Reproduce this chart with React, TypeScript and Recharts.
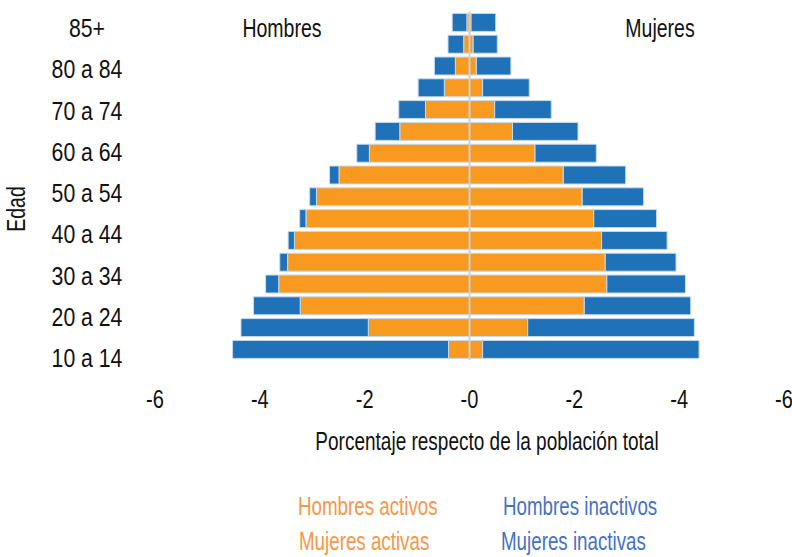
import React from "react";
import { BarChart, Bar, XAxis, YAxis, ReferenceLine, LineChart, Line } from "recharts";

const ageGroups = [
  "10 a 14", "15 a 19", "20 a 24", "25 a 29", "30 a 34", "35 a 39", "40 a 44", "45 a 49",
  "50 a 54", "55 a 59", "60 a 64", "65 a 69", "70 a 74", "75 a 79", "80 a 84", "85+",
];
// percent of total population (men shown to the left)
const hombresActivos = [0.4, 1.93, 3.23, 3.64, 3.47, 3.34, 3.12, 2.92, 2.49, 1.91, 1.33, 0.84, 0.48, 0.27, 0.11, 0.05];
const hombresInactivos = [4.12, 2.43, 0.89, 0.25, 0.15, 0.12, 0.12, 0.13, 0.18, 0.24, 0.47, 0.51, 0.5, 0.4, 0.3, 0.28];
const mujeresActivas = [0.25, 1.11, 2.19, 2.62, 2.59, 2.52, 2.37, 2.15, 1.79, 1.25, 0.82, 0.48, 0.25, 0.13, 0.07, 0.03];
const mujeresInactivas = [4.13, 3.18, 2.03, 1.5, 1.35, 1.25, 1.2, 1.17, 1.19, 1.17, 1.25, 1.08, 0.89, 0.66, 0.46, 0.47];

const ageTickLabels = ["10 a 14", "20 a 24", "30 a 34", "40 a 44", "50 a 54", "60 a 64", "70 a 74", "80 a 84", "85+"];
const ageTickValues = [0, 1, 2, 3, 4, 5, 6, 7, 8];
const xTicks = [-6, -4, -2, 0, 2, 4, 6];

const data = ageGroups.map((g, i) => ({
  edad: g,
  hA: -hombresActivos[i],
  hI: -hombresInactivos[i],
  mA: mujeresActivas[i],
  mI: mujeresInactivas[i],
}));
const labelData = ageTickValues.map((v) => ({ v }));

const FONT = "'Liberation Sans', Arial, sans-serif";
const ORANGE = "#F89A20";
const BLUE = "#1F72B8";
const STROKE = "#c8dbee";
const SX = 0.78;

const AgeTick = (props: any) => {
  const { x, y, payload } = props;
  return (
    <g transform={`translate(${x - 68},${y})`}>
      <text transform={`scale(0.85,1)`} x={0} y={0} dy="0.355em" textAnchor="middle" fontFamily={FONT} fontSize={25} fill="#111">
        {ageTickLabels[payload.value]}
      </text>
    </g>
  );
};

const XTick = (props: any) => {
  const { x, y, payload } = props;
  return (
    <g transform={`translate(${x},${y})`}>
      <text transform={`scale(0.8,1)`} x={0} y={0} dy="0.71em" textAnchor="middle" fontFamily={FONT} fontSize={25} fill="#111">
        {"-" + Math.abs(payload.value)}
      </text>
    </g>
  );
};

const abs = (s: React.CSSProperties): React.CSSProperties => ({
  position: "absolute",
  fontFamily: FONT,
  fontSize: 25,
  lineHeight: "25px",
  whiteSpace: "nowrap",
  ...s,
});

export default function App() {
  return (
    <div style={{ position: "absolute", left: 0, top: 0, width: 792, height: 557, background: "#fff" }}>
      <div style={{ position: "absolute", left: 0, top: 0 }}>
        <BarChart
          width={792}
          height={557}
          data={data}
          layout="vertical"
          stackOffset="sign"
          margin={{ top: 11.4, right: 8, bottom: 156.8, left: 155 }}
        >
          <XAxis
            type="number"
            domain={[-6, 6]}
            ticks={xTicks}
            axisLine={false}
            tickLine={false}
            tickSize={0}
            tickMargin={30}
            height={40}
            tick={<XTick />}
          />
          <YAxis type="category" dataKey="edad" reversed hide />
          <Bar dataKey="hA" stackId="s" fill={ORANGE} stroke={STROKE} strokeWidth={1} barSize={18} isAnimationActive={false} />
          <Bar dataKey="hI" stackId="s" fill={BLUE} stroke={STROKE} strokeWidth={1} barSize={18} isAnimationActive={false} />
          <Bar dataKey="mA" stackId="s" fill={ORANGE} stroke={STROKE} strokeWidth={1} barSize={18} isAnimationActive={false} />
          <Bar dataKey="mI" stackId="s" fill={BLUE} stroke={STROKE} strokeWidth={1} barSize={18} isAnimationActive={false} />
          <ReferenceLine x={0} stroke="#cfcfcf" strokeWidth={2} />
        </BarChart>
      </div>

      <div style={{ position: "absolute", left: 0, top: 0 }}>
        <LineChart width={792} height={557} data={labelData} margin={{ top: 11.4, right: 8, bottom: 196.8, left: 25 }}>
          <XAxis dataKey="v" hide />
          <YAxis
            type="number"
            domain={[-0.046, 8.41]}
            ticks={ageTickValues}
            allowDataOverflow
            axisLine={false}
            tickLine={false}
            tickSize={0}
            tickMargin={0}
            width={130}
            tick={<AgeTick />}
          />
          <Line dataKey="v" stroke="none" dot={false} activeDot={false} isAnimationActive={false} />
        </LineChart>
      </div>

      <div style={abs({ left: 282, top: 28 - 12.5, transform: `translateX(-50%) scaleX(${SX})`, color: "#111" })}>Hombres</div>
      <div style={abs({ left: 660, top: 28 - 12.5, transform: `translateX(-50%) scaleX(${SX})`, color: "#111" })}>Mujeres</div>
      <div style={abs({ left: 16, top: 209, transform: `translate(-50%, -50%) rotate(-90deg) scaleX(${SX})`, color: "#111" })}>Edad</div>
      <div style={abs({ left: 487, top: 441 - 12.5, transform: `translateX(-50%) scaleX(0.76)`, color: "#111" })}>
        Porcentaje respecto de la población total
      </div>

      <div style={abs({ left: 298, top: 506 - 12.5, transformOrigin: "left center", transform: "scaleX(0.75)", color: "#F79646" })}>Hombres activos</div>
      <div style={abs({ left: 503, top: 506 - 12.5, transformOrigin: "left center", transform: "scaleX(0.75)", color: "#4472C4" })}>Hombres inactivos</div>
      <div style={abs({ left: 299, top: 541 - 12.5, transformOrigin: "left center", transform: "scaleX(0.75)", color: "#F79646" })}>Mujeres activas</div>
      <div style={abs({ left: 501, top: 541 - 12.5, transformOrigin: "left center", transform: "scaleX(0.75)", color: "#4472C4" })}>Mujeres inactivas</div>
    </div>
  );
}
